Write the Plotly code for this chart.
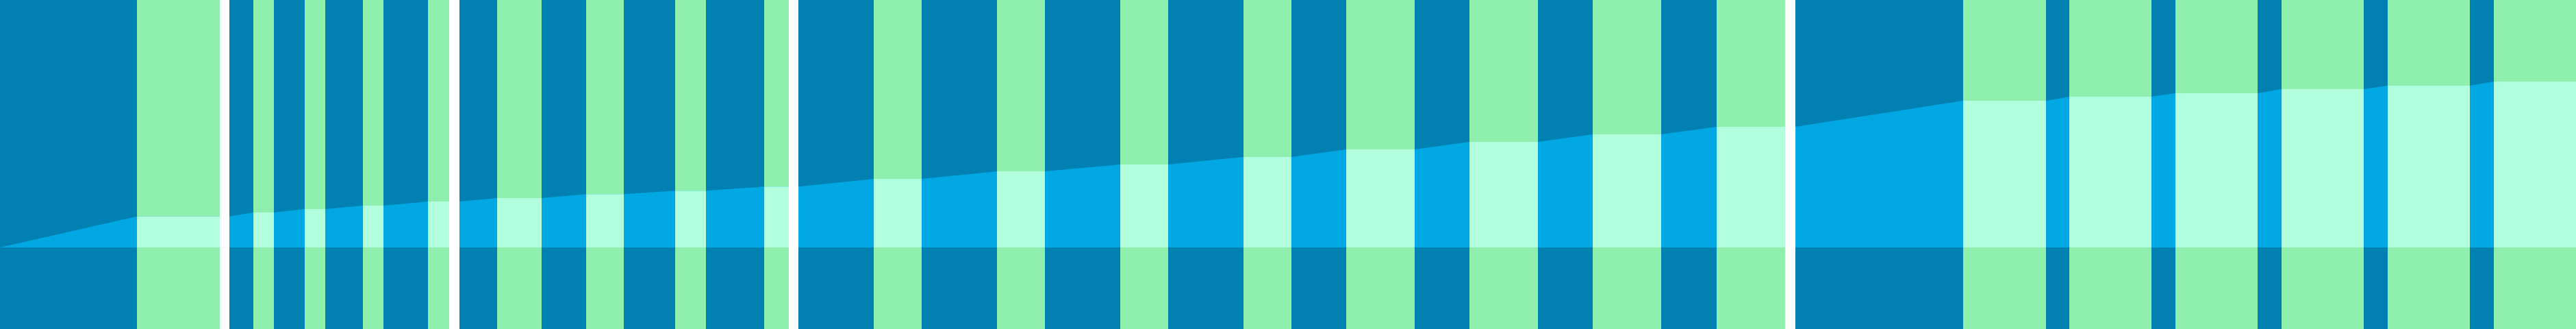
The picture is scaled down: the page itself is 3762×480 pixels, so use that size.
import plotly.graph_objects as go

# ------------------------------------------------------------------------------
# DATA (x in px along the strip, levels in px above the baseline)
# ------------------------------------------------------------------------------
band_start = [200, 370, 445, 530, 625, 726, 856, 986, 1116, 1276, 1456, 1636,
              1816, 1966, 2146, 2326, 2507, 2867, 3022, 3177, 3332, 3487, 3642]
band_end = [321, 400, 475, 560, 656, 791, 911, 1031, 1152, 1346, 1526, 1706,
            1886, 2066, 2246, 2426, 2607, 2988, 3142, 3297, 3452, 3607, 3762]
band_level = [45.3, 51, 56, 61, 67, 72, 77.7, 82.7, 88.7, 100, 111, 121,
              132, 143, 154, 165, 176, 214, 220, 225, 231, 236, 242]

white_start = [321, 656, 1152, 2607]
white_end = [335, 671, 1166, 2622]

X_RANGE = [0, 3762]
Y_RANGE = [-119, 361]

# --- STYLE ---
BG_COLOR = "#0081B1"      # dark blue
AREA_COLOR = "#00A8E3"    # light blue
BAND_COLOR = "#8FEFAD"    # green
MINT_COLOR = "#B2FFDE"    # band over area
WHITE = "#FFFFFF"

# build the rising line: flat over each band (and any white divider after it)
line_x, line_y = [0], [0]
for s, e, lv in zip(band_start, band_end, band_level):
    e2 = next((we for ws, we in zip(white_start, white_end) if ws == e), e)
    line_x += [s, e2]
    line_y += [lv, lv]

band_mid = [(s + e) / 2 for s, e in zip(band_start, band_end)]
band_w = [e - s for s, e in zip(band_start, band_end)]
white_mid = [(s + e) / 2 for s, e in zip(white_start, white_end)]
white_w = [e - s for s, e in zip(white_start, white_end)]
full_h = Y_RANGE[1] - Y_RANGE[0]

fig = go.Figure()

# 1. green bands, full height
fig.add_trace(go.Bar(
    x=band_mid, y=[full_h] * len(band_mid), width=band_w, base=Y_RANGE[0],
    marker=dict(color=BAND_COLOR, line_width=0), hoverinfo="skip"
))

# 2. area (scatter layer sits above the bars)
fig.add_trace(go.Scatter(
    x=line_x, y=line_y, mode="lines", fill="tozeroy",
    fillcolor=AREA_COLOR, line=dict(width=0, color=AREA_COLOR), hoverinfo="skip"
))

# 3. mint where the bands cross the area (on an overlaying axis pair)
fig.add_trace(go.Bar(
    x=band_mid, y=band_level, width=band_w, base=0,
    marker=dict(color=MINT_COLOR, line_width=0),
    xaxis="x2", yaxis="y2", hoverinfo="skip"
))

# 4. white dividers
fig.add_trace(go.Bar(
    x=white_mid, y=[full_h] * len(white_mid), width=white_w, base=Y_RANGE[0],
    marker=dict(color=WHITE, line_width=0),
    xaxis="x2", yaxis="y2", hoverinfo="skip"
))

axis_off = dict(visible=False, showgrid=False, zeroline=False, fixedrange=True)

fig.update_layout(
    width=3762, height=480,
    margin=dict(l=0, r=0, t=0, b=0, pad=0),
    paper_bgcolor=BG_COLOR, plot_bgcolor=BG_COLOR,
    showlegend=False,
    barmode="overlay",
    xaxis=dict(range=X_RANGE, **axis_off),
    yaxis=dict(range=Y_RANGE, **axis_off),
    xaxis2=dict(range=X_RANGE, overlaying="x", **axis_off),
    yaxis2=dict(range=Y_RANGE, overlaying="y", **axis_off),
)

# drop the browser's default body margin so the strip sits flush
fig.write_html(
    "out.html",
    config={"displayModeBar": False},
    post_script="document.body.style.margin='0';document.body.style.overflow='hidden';",
)
